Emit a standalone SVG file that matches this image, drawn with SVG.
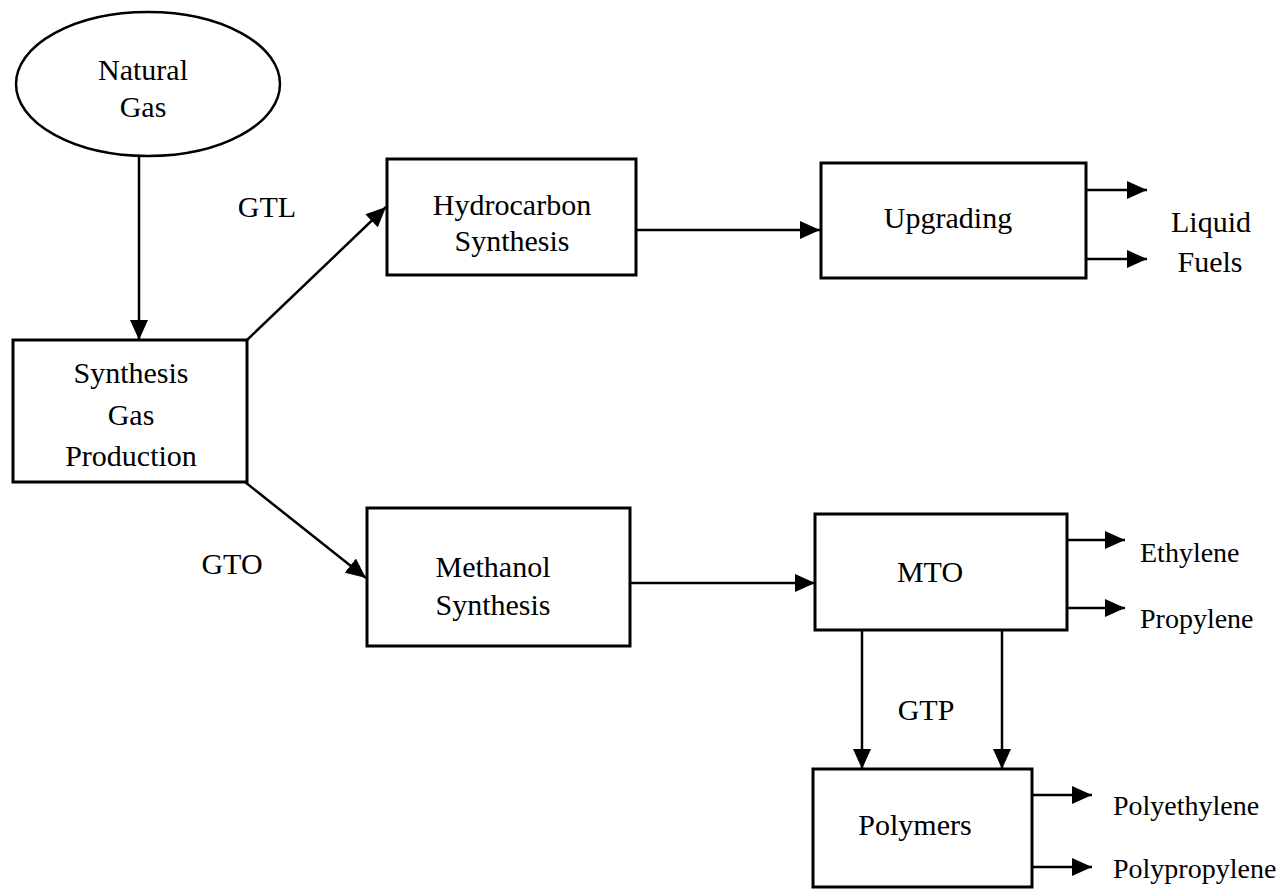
<svg xmlns="http://www.w3.org/2000/svg" width="1281" height="890" viewBox="0 0 1281 890">
<defs>
<marker id="ah" markerUnits="userSpaceOnUse" markerWidth="20" markerHeight="18" refX="20" refY="9" orient="auto">
<path d="M0,0 L20,9 L0,18 z" fill="#000"/>
</marker>
<style>
.box{fill:#fff;stroke:#000;stroke-width:3}
.t{font-family:"Liberation Serif","Times New Roman",serif;font-size:30px;fill:#000;text-anchor:middle}
.s{font-family:"Liberation Serif","Times New Roman",serif;font-size:28px;fill:#000;text-anchor:start}
.c{stroke:#000;stroke-width:2.5;fill:none;marker-end:url(#ah)}
</style>
</defs>
<rect width="1281" height="890" fill="#fff"/>
<g id="connectors">
<line class="c" x1="139" y1="156" x2="139" y2="340"/>
<line class="c" x1="247" y1="340" x2="386" y2="207"/>
<line class="c" x1="245" y1="482" x2="366" y2="578"/>
<line class="c" x1="636" y1="230" x2="820" y2="230"/>
<line class="c" x1="1086" y1="190" x2="1147" y2="190"/>
<line class="c" x1="1086" y1="259" x2="1147" y2="259"/>
<line class="c" x1="630" y1="583" x2="815" y2="583"/>
<line class="c" x1="1067" y1="540" x2="1125" y2="540"/>
<line class="c" x1="1067" y1="608" x2="1125" y2="608"/>
<line class="c" x1="862" y1="630" x2="862" y2="769"/>
<line class="c" x1="1002" y1="630" x2="1002" y2="769"/>
<line class="c" x1="1032" y1="795" x2="1092" y2="795"/>
<line class="c" x1="1032" y1="867" x2="1092" y2="867"/>
</g>
<g id="natural-gas">
<ellipse cx="148" cy="84" rx="132" ry="72" fill="#fff" stroke="#000" stroke-width="2.5"/>
<text class="t" x="143" y="80">Natural</text>
<text class="t" x="143" y="117">Gas</text>
</g>
<g id="syngas">
<rect class="box" x="13" y="340" width="234" height="142"/>
<text class="t" x="131" y="383">Synthesis</text>
<text class="t" x="131" y="425">Gas</text>
<text class="t" x="131" y="466">Production</text>
</g>
<g id="hydrocarbon">
<rect class="box" x="387" y="159" width="249" height="116"/>
<text class="t" x="512" y="215">Hydrocarbon</text>
<text class="t" x="512" y="251">Synthesis</text>
</g>
<g id="upgrading">
<rect class="box" x="821" y="163" width="265" height="115"/>
<text class="t" x="948" y="228">Upgrading</text>
</g>
<g id="methanol">
<rect class="box" x="367" y="508" width="263" height="138"/>
<text class="t" x="493" y="577">Methanol</text>
<text class="t" x="493" y="615">Synthesis</text>
</g>
<g id="mto">
<rect class="box" x="815" y="514" width="252" height="116"/>
<text class="t" x="930" y="582">MTO</text>
</g>
<g id="polymers">
<rect class="box" x="813" y="769" width="219" height="118"/>
<text class="t" x="915" y="835">Polymers</text>
</g>
<g id="labels">
<text class="t" x="267" y="217">GTL</text>
<text class="t" x="232" y="574">GTO</text>
<text class="t" x="926" y="720">GTP</text>
<text class="t" x="1211" y="232">Liquid</text>
<text class="t" x="1210" y="272">Fuels</text>
<text class="s" x="1140" y="562">Ethylene</text>
<text class="s" x="1140" y="628">Propylene</text>
<text class="s" x="1113" y="815">Polyethylene</text>
<text class="s" x="1113" y="878">Polypropylene</text>
</g>
</svg>
